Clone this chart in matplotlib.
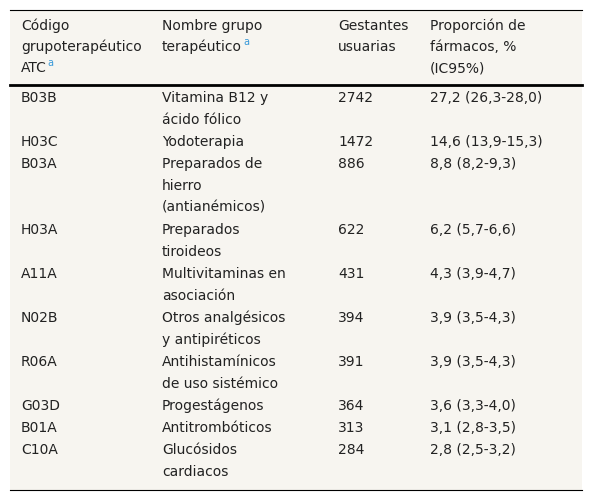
import matplotlib
matplotlib.use("Agg")
import matplotlib.pyplot as plt
from matplotlib.patches import Rectangle

headers = [["Código", "grupoterapéutico", "ATC"],
           ["Nombre grupo", "terapéutico"],
           ["Gestantes", "usuarias"],
           ["Proporción de", "fármacos, %", "(IC95%)"]]
header_sup = [2, 1, None, None]  # line index carrying superscript "a"
codes = ["B03B", "H03C", "B03A", "H03A", "A11A", "N02B", "R06A", "G03D", "B01A", "C10A"]
names = [["Vitamina B12 y", "ácido fólico"], ["Yodoterapia"],
         ["Preparados de", "hierro", "(antianémicos)"], ["Preparados", "tiroideos"],
         ["Multivitaminas en", "asociación"], ["Otros analgésicos", "y antipiréticos"],
         ["Antihistamínicos", "de uso sistémico"], ["Progestágenos"],
         ["Antitrombóticos"], ["Glucósidos", "cardiacos"]]
users = [2742, 1472, 886, 622, 431, 394, 391, 364, 313, 284]
props = ["27,2 (26,3-28,0)", "14,6 (13,9-15,3)", "8,8 (8,2-9,3)", "6,2 (5,7-6,6)",
         "4,3 (3,9-4,7)", "3,9 (3,5-4,3)", "3,9 (3,5-4,3)", "3,6 (3,3-4,0)",
         "3,1 (2,8-3,5)", "2,8 (2,5-3,2)"]

W, H = 592, 502
fig = plt.figure(figsize=(W / 100, H / 100), dpi=100)
ax = fig.add_axes([0, 0, 1, 1])
ax.set_xlim(0, W)
ax.set_ylim(H, 0)
ax.axis("off")

ax.add_patch(Rectangle((10, 11), 572, 480, color="#f7f5f0", lw=0))
ax.plot([10, 582], [11, 11], color="black", lw=0.8)
ax.plot([10, 582], [86, 86], color="black", lw=2)
ax.plot([10, 582], [491, 491], color="black", lw=0.8)

colx = [21, 162, 338, 430]
fs = 10
fig.canvas.draw()
r = fig.canvas.get_renderer()
for c, lines in enumerate(headers):
    for i, s in enumerate(lines):
        y = 26 + i * 21
        t = ax.text(colx[c], y, s, fontsize=fs, va="center", ha="left", color="#222222")
        if header_sup[c] == i:
            bb = t.get_window_extent(r)
            ax.text(bb.x1 + 1, y - 5, "a", fontsize=7, va="center", ha="left", color="#3a9ad9")

line_h = 22
y = 98
for code, nm, u, p in zip(codes, names, users, props):
    ax.text(colx[0], y, code, fontsize=fs, va="center", color="#222222")
    ax.text(colx[2], y, str(u), fontsize=fs, va="center", color="#222222")
    ax.text(colx[3], y, p, fontsize=fs, va="center", color="#222222")
    for i, s in enumerate(nm):
        ax.text(colx[1], y + i * line_h, s, fontsize=fs, va="center", color="#222222")
    y += line_h * len(nm)

fig.savefig("out.png", dpi=100)
